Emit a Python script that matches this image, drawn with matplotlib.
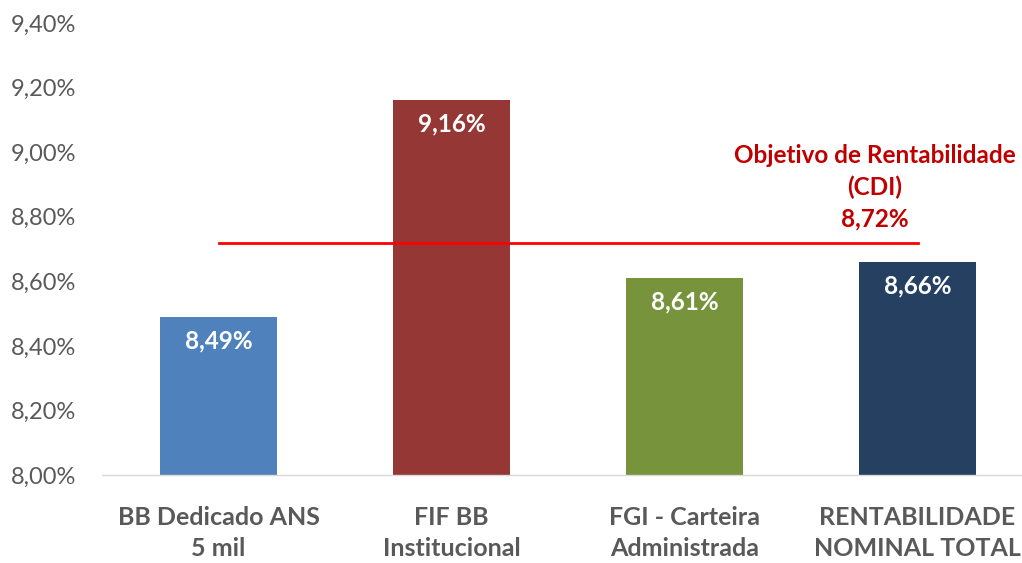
import matplotlib
matplotlib.use("Agg")
from matplotlib import pyplot as plt

categories = ["BB Dedicado ANS\n5 mil", "FIF BB\nInstitucional",
              "FGI - Carteira\nAdministrada", "RENTABILIDADE\nNOMINAL TOTAL"]
values = [8.49, 9.16, 8.61, 8.66]
value_labels = ["8,49%", "9,16%", "8,61%", "8,66%"]
colors = ["#4F81BD", "#953735", "#77933C", "#254061"]
target = 8.72
target_label = "Objetivo de Rentabilidade\n(CDI)\n8,72%"
yticks = [8.0, 8.2, 8.4, 8.6, 8.8, 9.0, 9.2, 9.4]
ytick_labels = ["8,00%", "8,20%", "8,40%", "8,60%", "8,80%", "9,00%", "9,20%", "9,40%"]

plt.rcParams['font.family'] = ['Lato', 'DejaVu Sans']

fig = plt.figure(figsize=(10.22, 5.63), dpi=100)
ax = fig.add_axes([102 / 1022, 88 / 563, 932 / 1022, 452 / 563])

x = list(range(len(categories)))
ax.bar(x, [v - 8.0 for v in values], bottom=8.0, width=0.5, color=colors, zorder=2)

for xi, v, lab in zip(x, values, value_labels):
    ax.text(xi, v - 0.074, lab, ha="center", va="center", color="white",
            fontsize=17.5, fontweight="bold", zorder=3)

ax.plot([x[0], x[-1]], [target, target], color="#FF0000", lw=2, zorder=3)
ax.text(2.815, 8.757, target_label, ha="center", va="bottom", color="#C00000",
        fontsize=17.5, fontweight="bold", linespacing=1.45)

ax.set_xlim(-0.5, 3.5)
ax.set_ylim(8.0, 9.4)
ax.set_yticks(yticks)
ax.set_yticklabels(ytick_labels)
ax.set_xticks(x)
ax.set_xticklabels(categories, fontsize=18, fontweight="bold", color="#595959",
                   linespacing=1.45)
ax.tick_params(axis="y", length=0, pad=18.5, labelsize=17, labelcolor="#595959")
ax.tick_params(axis="x", length=0, pad=22)

for s in ["top", "right", "left"]:
    ax.spines[s].set_visible(False)
ax.spines["bottom"].set_color("#D9D9D9")
ax.spines["bottom"].set_linewidth(1)

fig.savefig("out.png", dpi=100)
